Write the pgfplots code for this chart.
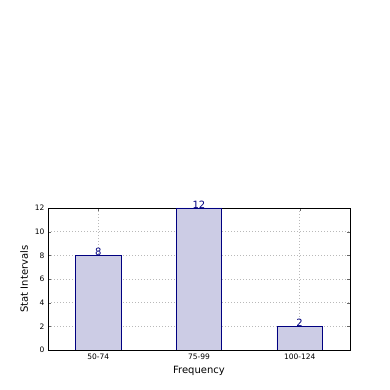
\documentclass[border=0pt]{standalone}
\usepackage{pgfplots}
\pgfplotsset{compat=1.18}
\usepackage{fontspec}
\setmainfont{DejaVu Sans}
\definecolor{barfill}{RGB}{204,204,229}
\definecolor{navy}{RGB}{0,0,128}
\begin{document}
\begin{tikzpicture}
\path[use as bounding box] (0,0) rectangle (390bp,390bp);
\begin{axis}[
  at={(48bp,40bp)}, anchor=south west,
  width=302bp, height=142bp, scale only axis,
  xmin=-0.5, xmax=2.5, ymin=0, ymax=12,
  xtick={0,1,2}, xticklabels={50-74,75-99,100-124},
  ytick={0,2,4,6,8,10,12},
  tick align=inside, tick pos=both,
  major tick length=3bp,
  tick style={black!60},
  grid=major,
  grid style={gray!55, dash pattern=on 1bp off 2bp, line width=0.8pt},
  axis line style={black, line width=0.6pt},
  ticklabel style={font=\fontsize{7.5bp}{8bp}\selectfont},
  /pgf/number format/assume math mode=true,
  xlabel={Frequency}, ylabel={Stat Intervals},
  label style={font=\fontsize{10bp}{12bp}\selectfont},
  xlabel style={yshift=0bp},
  ylabel style={yshift=0bp},
  nodes near coords,
  every node near coord/.append style={font=\fontsize{10bp}{11bp}\selectfont, text=navy, anchor=base, inner sep=0pt, yshift=0bp},
]
\addplot[ybar, bar width=45.5bp, fill=barfill, draw=navy, line width=0.6pt] coordinates {(0,8) (1,12) (2,2)};
\end{axis}
\end{tikzpicture}
\end{document}
